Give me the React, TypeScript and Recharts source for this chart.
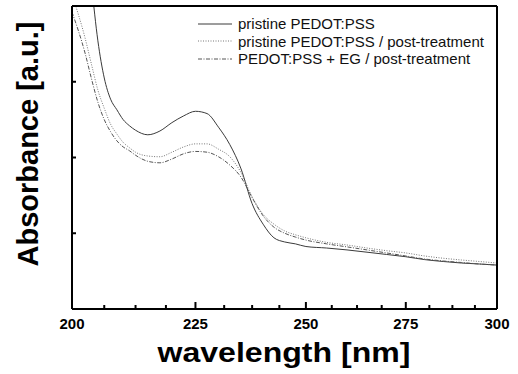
/**
 * UV absorbance spectra, PEDOT:PSS films
 */

import { LineChart, Line, XAxis, YAxis, Legend } from 'recharts';

const wavelengths = [
  200, 202.5, 203.75, 205, 206.25, 207.5, 208.75, 210, 211.25, 212.5, 215, 217.5, 220, 222.5,
  225, 227.5, 230, 232.5, 235, 237.5, 240, 242.5, 245, 247.5, 250, 255, 260, 265, 270, 275,
  280, 285, 290, 295, 300,
];
const pristine = [
  5.7, 5.05, 4.28, 3.54, 3.05, 2.77, 2.63, 2.5, 2.42, 2.36, 2.3, 2.35, 2.46, 2.55,
  2.61, 2.58, 2.4, 2.17, 1.85, 1.39, 1.12, 0.94, 0.885, 0.86, 0.825, 0.805, 0.78, 0.75, 0.72, 0.69,
  0.652, 0.627, 0.607, 0.594, 0.58,
];
const pristinePost = [
  4.15, 3.58, 3.23, 2.89, 2.65, 2.44, 2.31, 2.2, 2.13, 2.07, 2.02, 2.01, 2.07, 2.14,
  2.18, 2.18, 2.11, 2.01, 1.8, 1.48, 1.25, 1.12, 1.03, 0.98, 0.94, 0.88, 0.845, 0.805, 0.77, 0.74,
  0.7, 0.67, 0.647, 0.627, 0.607,
];
const egPost = [
  3.92, 3.38, 3.04, 2.73, 2.5, 2.34, 2.22, 2.14, 2.09, 2.03, 1.95, 1.93, 1.98, 2.05,
  2.08, 2.07, 2.01, 1.9, 1.74, 1.47, 1.23, 1.08, 1.0, 0.95, 0.91, 0.86, 0.82, 0.78, 0.74, 0.7,
  0.66, 0.634, 0.614, 0.594, 0.58,
];

const xTicks = [
  200, 206.25, 212.5, 218.75, 225, 231.25, 237.5, 243.75, 250, 256.25, 262.5, 268.75, 275,
  281.25, 287.5, 293.75, 300,
];
const xLabels = [200, 225, 250, 275, 300];
const yTicks = [1, 2, 3];

const series = [
  { key: 'pristine', name: 'pristine PEDOT:PSS', color: '#3a3a3a', dash: undefined },
  { key: 'pristinePost', name: 'pristine PEDOT:PSS / post-treatment', color: '#777', dash: '1 1.5' },
  { key: 'egPost', name: 'PEDOT:PSS + EG / post-treatment', color: '#555', dash: '4 1.5 1 1.5' },
];

const data = wavelengths.map((wl, i) => ({
  wl,
  pristine: pristine[i],
  pristinePost: pristinePost[i],
  egPost: egPost[i],
}));

const FONT = '"Liberation Sans", Arial, sans-serif';
const axisStroke = { stroke: '#000', strokeWidth: 2 };

// tick line (4px, inward) comes from recharts; majors get 3px more plus the label
function BottomTick({ x, y, payload }: any) {
  if (!xLabels.includes(payload.value)) return <g />;
  return (
    <g>
      <line x1={x} x2={x} y1={y} y2={y - 3} stroke="#000" strokeWidth={2} />
      <text x={x} y={y + 24} textAnchor="middle" fontFamily={FONT} fontWeight="bold" fontSize={15} fill="#000">
        {payload.value}
      </text>
    </g>
  );
}

function LeftTick({ x, y }: any) {
  return <line x1={x} x2={x + 4} y1={y} y2={y} stroke="#000" strokeWidth={2} />;
}

function RightTick({ x, y }: any) {
  return <line x1={x} x2={x - 4} y1={y} y2={y} stroke="#000" strokeWidth={2} />;
}

function LegendBox() {
  return (
    <div style={{ fontFamily: FONT, fontSize: 15, color: '#111' }}>
      {series.map((s) => (
        <div key={s.key} style={{ display: 'flex', alignItems: 'center', height: 17.5 }}>
          <svg width={40} height={18}>
            <line x1={0} x2={34} y1={9} y2={9} stroke={s.color} strokeWidth={1} strokeDasharray={s.dash} />
          </svg>
          <span style={{ whiteSpace: 'nowrap' }}>{s.name}</span>
        </div>
      ))}
    </div>
  );
}

export default function App() {
  return (
    <div style={{ position: 'absolute', left: 0, top: 0, background: '#fff' }}>
      <LineChart width={518} height={374} data={data} margin={{ top: 0, right: 0, bottom: 0, left: 0 }}>
        <XAxis
          dataKey="wl"
          type="number"
          scale="log"
          domain={[200, 300]}
          ticks={xTicks}
          interval={0}
          allowDataOverflow
          height={65}
          tickSize={-4}
          tickMargin={0}
          tickLine={axisStroke}
          tick={<BottomTick />}
          axisLine={axisStroke}
          label={{
            content: () => (
              <text
                x={284}
                y={362}
                textAnchor="middle"
                textLength={253}
                lengthAdjust="spacingAndGlyphs"
                fontFamily={FONT}
                fontWeight="bold"
                fontSize={27}
                fill="#000"
              >
                wavelength [nm]
              </text>
            ),
          }}
        />
        <XAxis
          xAxisId="top"
          dataKey="wl"
          type="number"
          scale="log"
          domain={[200, 300]}
          orientation="top"
          height={6}
          tick={false}
          tickLine={false}
          axisLine={axisStroke}
        />
        <YAxis
          domain={[0, 4]}
          ticks={yTicks}
          interval={0}
          allowDataOverflow
          width={72}
          tickSize={0}
          tickMargin={0}
          tickLine={false}
          tick={<LeftTick />}
          axisLine={axisStroke}
          label={{
            content: () => (
              <text
                x={38}
                y={144}
                transform="rotate(-90 38 144)"
                textAnchor="middle"
                fontFamily={FONT}
                fontWeight="bold"
                fontSize={29}
                fill="#000"
              >
                Absorbance [a.u.]
              </text>
            ),
          }}
        />
        <YAxis
          yAxisId="right"
          orientation="right"
          domain={[0, 4]}
          ticks={yTicks}
          interval={0}
          width={21}
          tickSize={0}
          tickMargin={0}
          tickLine={false}
          tick={<RightTick />}
          axisLine={axisStroke}
        />
        <Legend
          layout="vertical"
          align="center"
          verticalAlign="middle"
          wrapperStyle={{ left: 198, top: 15, width: 300 }}
          content={() => <LegendBox />}
        />
        {series.map((s) => (
          <Line
            key={s.key}
            type="monotone"
            dataKey={s.key}
            name={s.name}
            stroke={s.color}
            strokeWidth={1}
            strokeDasharray={s.dash}
            dot={false}
            isAnimationActive={false}
          />
        ))}
      </LineChart>
    </div>
  );
}
